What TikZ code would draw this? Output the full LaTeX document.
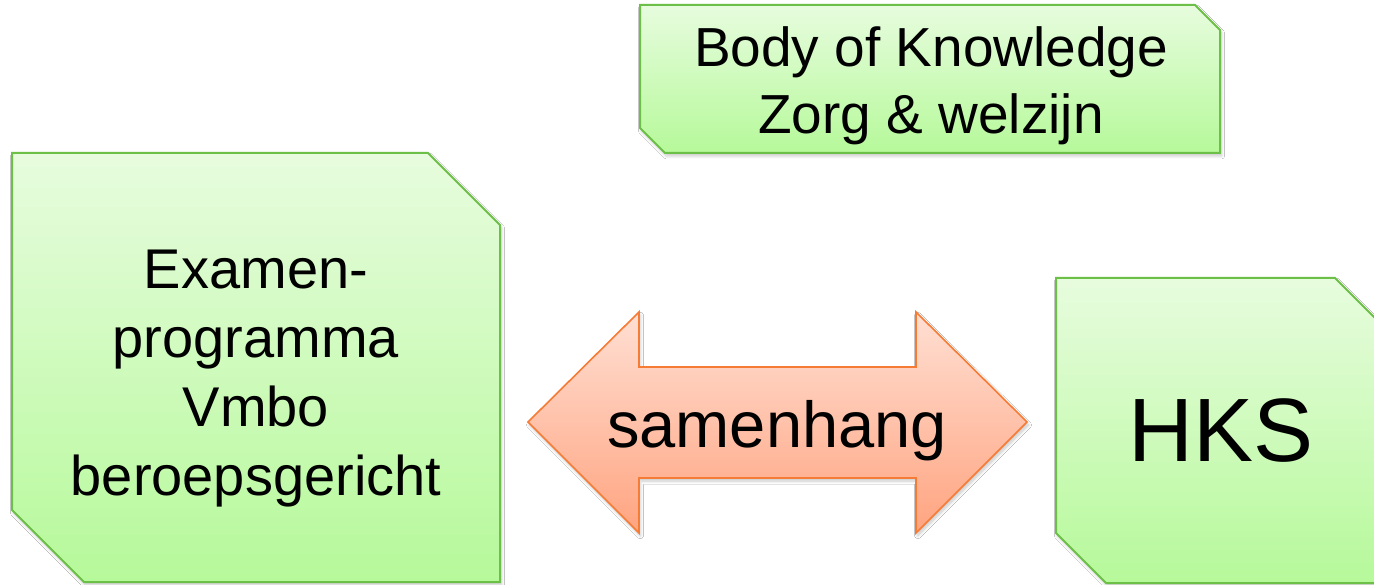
\documentclass[tikz,border=0pt]{standalone}
\usepackage{fontspec}
\setmainfont{Liberation Sans}
\usetikzlibrary{shadows.blur}
\definecolor{gtop}{HTML}{E7FCDE}
\definecolor{gbot}{HTML}{B6F99A}
\definecolor{gline}{HTML}{6CBF47}
\definecolor{otop}{HTML}{FFDFD3}
\definecolor{obot}{HTML}{FFA480}
\definecolor{oline}{HTML}{F67B35}
\begin{document}
\begin{tikzpicture}[x=1pt,y=-1pt,
  softshadow/.style={blur shadow={shadow xshift=1.5pt, shadow yshift=-3pt, shadow opacity=22, shadow blur steps=6, shadow blur radius=3pt}},
  greenbox/.style={draw=gline, line width=2pt, line join=miter, top color=gtop, bottom color=gbot, softshadow},
  orangearrow/.style={draw=oline, line width=1.6pt, line join=miter, top color=otop, bottom color=obot, softshadow},
  txt/.style={inner sep=0pt, align=center, text=black}
]
\clip (0,0) rectangle (1374,585);
\fill[white] (0,0) rectangle (1374,585);

% Body of Knowledge box
\draw[greenbox] (640,5) -- (1195,5) -- (1220,30) -- (1220,153) -- (665,153) -- (640,128) -- cycle;
\node[txt, font=\fontsize{55}{67}\selectfont] (bok) at (931,85.5) {Body of Knowledge\\Zorg \& welzijn};

% Examenprogramma box
\draw[greenbox] (12,153) -- (428,153) -- (500,225) -- (500,582) -- (84,582) -- (12,510) -- cycle;
\node[txt, font=\fontsize{56}{69}\selectfont] (exam) at (256,378.5) {Examen-\\programma\\Vmbo\\beroepsgericht};

% HKS box
\draw[greenbox] (1056,278) -- (1335,278) -- (1385,328) -- (1385,583) -- (1106,583) -- (1056,533) -- cycle;
\node[txt, font=\fontsize{90}{100}\selectfont] (hks) at (1221.5,431) {HKS};

% double arrow
\draw[orangearrow] (528,422) -- (639,312) -- (639,367) -- (916,367) -- (916,312) -- (1027,422)
  -- (916,533) -- (916,478) -- (639,478) -- (639,533) -- cycle;
\node[txt, font=\fontsize{65}{75}\selectfont] (samen) at (777,430.5) {samenhang};
\end{tikzpicture}
\end{document}
